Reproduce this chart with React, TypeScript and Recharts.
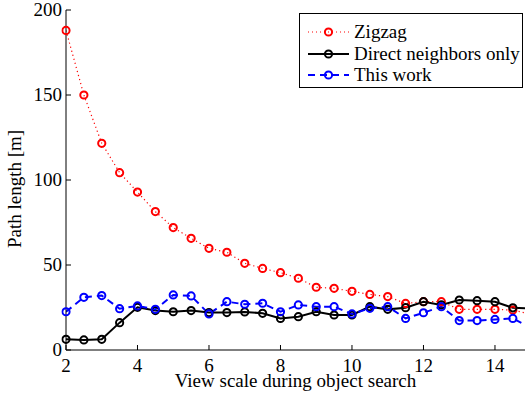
import { LineChart, Line, XAxis, YAxis } from "recharts";

const FONT = '"Liberation Serif", "Times New Roman", serif';

const viewScale = [2, 2.5, 3, 3.5, 4, 4.5, 5, 5.5, 6, 6.5, 7, 7.5, 8, 8.5, 9, 9.5, 10, 10.5, 11, 11.5, 12, 12.5, 13, 13.5, 14, 14.5, 15];
const zigzag = [188, 150, 121.6, 104.3, 92.9, 81.4, 72, 65.7, 59.8, 57.5, 51, 48, 45.5, 42.2, 36.9, 36.3, 34.5, 32.7, 31.4, 27.4, 28.4, 28.4, 23.9, 23.9, 23.9, 23.5, 21];
const directNeighbors = [6.3, 5.9, 6.3, 16.1, 25.1, 23.2, 22.5, 23.2, 22, 22, 22.4, 21.6, 18.6, 19.6, 22.5, 20.6, 20.6, 25.5, 23.9, 24.9, 28.4, 26.5, 29.4, 29, 28.4, 24.8, 24.5];
const thisWork = [22.5, 31, 32, 24.3, 25.9, 23.9, 32.4, 31.8, 21.2, 28.4, 26.9, 27.5, 22.5, 26.5, 25.5, 25.5, 21.2, 24.5, 25.5, 18.6, 21.9, 25.5, 17.3, 17.3, 18, 18.6, 13];

const xTicks = [2, 4, 6, 8, 10, 12, 14];
const yTicks = [0, 50, 100, 150, 200];

const data = viewScale.map((x, i) => ({
  x,
  zigzag: zigzag[i],
  direct: directNeighbors[i],
  work: thisWork[i],
}));

const legendItems = [
  { name: "Zigzag", color: "#ff0000", dash: "1 3", width: 1 },
  { name: "Direct neighbors only", color: "#000000", dash: undefined, width: 2 },
  { name: "This work", color: "#0000ff", dash: "7 5", width: 2 },
];

const DOT_R = 3.6;

// eslint-disable-next-line @typescript-eslint/no-explicit-any
function BottomTick({ x, y, payload }: any) {
  return (
    <g>
      <line x1={x} y1={y} x2={x} y2={y - 5} stroke="#000" />
      <text x={x} y={y + 22} textAnchor="middle" fontSize={19} fontFamily={FONT} fill="#000">
        {payload.value}
      </text>
    </g>
  );
}

// eslint-disable-next-line @typescript-eslint/no-explicit-any
function TopTick({ x, y }: any) {
  return <line x1={x} y1={y} x2={x} y2={y + 5} stroke="#000" />;
}

// eslint-disable-next-line @typescript-eslint/no-explicit-any
function LeftTick({ x, y, payload }: any) {
  return (
    <g>
      <line x1={x} y1={y} x2={x + 5} y2={y} stroke="#000" />
      <text x={x - 4} y={y + 6} textAnchor="end" fontSize={19} fontFamily={FONT} fill="#000">
        {payload.value}
      </text>
    </g>
  );
}

function YLabel() {
  return (
    <text
      x={21}
      y={189}
      transform="rotate(-90 21 189)"
      textAnchor="middle"
      fontSize={19}
      fontFamily={FONT}
      fill="#000"
    >
      Path length [m]
    </text>
  );
}

function LegendBox() {
  return (
    <div
      style={{
        position: "absolute",
        left: 299,
        top: 13,
        width: 222,
        height: 73,
        border: "1.5px solid #000",
        background: "#fff",
        fontFamily: FONT,
        fontSize: 19,
        color: "#000",
      }}
    >
      {legendItems.map((item, i) => (
        <div
          key={item.name}
          style={{
            position: "absolute",
            left: 0,
            top: 7 + i * 21.5,
            height: 22,
            display: "flex",
            alignItems: "center",
            whiteSpace: "nowrap",
          }}
        >
          <svg width={54} height={22} style={{ display: "block" }}>
            <line
              x1={8}
              y1={11}
              x2={49}
              y2={11}
              stroke={item.color}
              strokeWidth={item.width}
              strokeDasharray={item.dash}
            />
            <circle cx={28.5} cy={11} r={DOT_R} fill="none" stroke={item.color} strokeWidth={2} />
          </svg>
          <span style={{ lineHeight: "22px" }}>{item.name}</span>
        </div>
      ))}
    </div>
  );
}

export default function App() {
  return (
    <div style={{ position: "absolute", left: 0, top: 0, width: 525, height: 394, background: "#fff" }}>
      <LineChart width={525} height={394} data={data} margin={{ top: 10, right: 0, bottom: 0, left: 0 }}>
        <XAxis
          xAxisId="top"
          orientation="top"
          dataKey="x"
          type="number"
          domain={[2, 14.84]}
          allowDataOverflow
          ticks={xTicks}
          interval={0}
          height={0}
          tickSize={0}
          tickMargin={0}
          tick={<TopTick />}
          tickLine={false}
          axisLine={{ stroke: "#000" }}
        />
        <XAxis
          dataKey="x"
          type="number"
          domain={[2, 14.84]}
          allowDataOverflow
          ticks={xTicks}
          interval={0}
          height={44}
          tickSize={0}
          tickMargin={0}
          tick={<BottomTick />}
          tickLine={false}
          axisLine={{ stroke: "#000" }}
          label={{
            value: "View scale during object search",
            position: "insideBottom",
            offset: 7,
            fontSize: 19,
            fontFamily: FONT,
            fill: "#000",
          }}
        />
        <YAxis
          type="number"
          domain={[0, 200]}
          ticks={yTicks}
          interval={0}
          width={66}
          tickSize={0}
          tickMargin={0}
          tick={<LeftTick />}
          tickLine={false}
          axisLine={{ stroke: "#000" }}
          label={{ content: () => <YLabel /> }}
        />
        <Line
          dataKey="zigzag"
          stroke="#ff0000"
          strokeWidth={1.2}
          strokeDasharray="1.2 3"
          dot={{ r: DOT_R, stroke: "#ff0000", strokeWidth: 2, fill: "none", strokeDasharray: "none", clipDot: false }}
          isAnimationActive={false}
        />
        <Line
          dataKey="direct"
          stroke="#000000"
          strokeWidth={2}
          dot={{ r: DOT_R, stroke: "#000000", strokeWidth: 2, fill: "none", clipDot: false }}
          isAnimationActive={false}
        />
        <Line
          dataKey="work"
          stroke="#0000ff"
          strokeWidth={2}
          strokeDasharray="7 5"
          dot={{ r: DOT_R, stroke: "#0000ff", strokeWidth: 2, fill: "none", strokeDasharray: "none", clipDot: false }}
          isAnimationActive={false}
        />
      </LineChart>
      <LegendBox />
    </div>
  );
}
